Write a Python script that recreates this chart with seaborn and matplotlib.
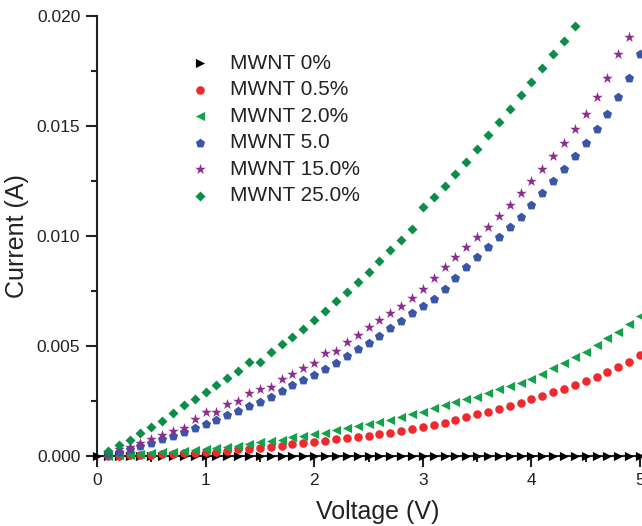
import numpy as np
import pandas as pd
import matplotlib
matplotlib.use("Agg")
import matplotlib.pyplot as plt
import seaborn as sns
from matplotlib.ticker import MultipleLocator, FormatStrFormatter

VOLTAGE = [0.0, 0.1, 0.2, 0.3, 0.4, 0.5, 0.6, 0.7, 0.8, 0.9,
           1.0, 1.1, 1.2, 1.3, 1.4, 1.5, 1.6, 1.7, 1.8, 1.9,
           2.0, 2.1, 2.2, 2.3, 2.4, 2.5, 2.6, 2.7, 2.8, 2.9,
           3.0, 3.1, 3.2, 3.3, 3.4, 3.5, 3.6, 3.7, 3.8, 3.9,
           4.0, 4.1, 4.2, 4.3, 4.4, 4.5, 4.6, 4.7, 4.8, 4.9, 5.0]

LABELS = ["MWNT 0%", "MWNT 0.5%", "MWNT 2.0%", "MWNT 5.0", "MWNT 15.0%", "MWNT 25.0%"]

cur_0 = [0.0] * 51

cur_05 = [0.00001, 0.00002, 0.00003, 0.00005, 0.00006, 0.00008, 0.00010, 0.00012, 0.00015, 0.00018,
          0.00020, 0.00025, 0.00030, 0.00034, 0.00038, 0.00041, 0.00045, 0.00055, 0.00059, 0.00064,
          0.00068, 0.00077, 0.00082, 0.00086, 0.00091, 0.00100, 0.00105, 0.00114, 0.00123, 0.00132,
          0.00141, 0.00150, 0.00164, 0.00177, 0.00191, 0.00200, 0.00214, 0.00227, 0.00241, 0.00259,
          0.00273, 0.00291, 0.00305, 0.00323, 0.00341, 0.00359, 0.00382, 0.00405, 0.00427, 0.00459]

cur_2 = [0.00002, 0.00004, 0.00006, 0.00010, 0.00014, 0.00016, 0.00018, 0.00023, 0.00027, 0.00032,
         0.00036, 0.00041, 0.00045, 0.00055, 0.00064, 0.00068, 0.00073, 0.00086, 0.00091, 0.00100,
         0.00105, 0.00118, 0.00127, 0.00136, 0.00145, 0.00155, 0.00164, 0.00177, 0.00191, 0.00200,
         0.00218, 0.00232, 0.00245, 0.00259, 0.00268, 0.00286, 0.00305, 0.00318, 0.00332, 0.00350,
         0.00373, 0.00400, 0.00423, 0.00450, 0.00473, 0.00505, 0.00536, 0.00564, 0.00600, 0.00636]

cur_5 = [0.00009, 0.00018, 0.00032, 0.00045, 0.00059, 0.00077, 0.00091, 0.00109, 0.00127, 0.00145,
         0.00164, 0.00186, 0.00205, 0.00227, 0.00245, 0.00268, 0.00295, 0.00323, 0.00345, 0.00368,
         0.00395, 0.00425, 0.00455, 0.00486, 0.00514, 0.00545, 0.00582, 0.00614, 0.00650, 0.00682,
         0.00714, 0.00757, 0.00809, 0.00859, 0.00905, 0.00950, 0.00995, 0.01041, 0.01086, 0.01141,
         0.01195, 0.01250, 0.01305, 0.01364, 0.01423, 0.01486, 0.01555, 0.01632, 0.01718, 0.01827]

cur_15 = [0.00018, 0.00032, 0.00041, 0.00059, 0.00077, 0.00095, 0.00114, 0.00127, 0.00168, 0.00200,
          0.00200, 0.00236, 0.00250, 0.00286, 0.00305, 0.00314, 0.00350, 0.00373, 0.00400, 0.00423,
          0.00468, 0.00477, 0.00518, 0.00550, 0.00586, 0.00618, 0.00650, 0.00682, 0.00718, 0.00759,
          0.00809, 0.00859, 0.00905, 0.00950, 0.00995, 0.01041, 0.01091, 0.01141, 0.01195, 0.01250,
          0.01305, 0.01364, 0.01423, 0.01486, 0.01555, 0.01632, 0.01718, 0.01827, 0.01905]

cur_25 = [0.00023, 0.00050, 0.00073, 0.00105, 0.00132, 0.00159, 0.00195, 0.00232, 0.00259, 0.00289,
          0.00323, 0.00355, 0.00386, 0.00427, 0.00427, 0.00473, 0.00509, 0.00541, 0.00577, 0.00618,
          0.00659, 0.00705, 0.00745, 0.00791, 0.00836, 0.00886, 0.00936, 0.00982, 0.01032, 0.01132,
          0.01177, 0.01227, 0.01282, 0.01336, 0.01395, 0.01459, 0.01518, 0.01577, 0.01641, 0.01700,
          0.01764, 0.01827, 0.01886, 0.01955]

COLORS = ["#000000", "#ee2a2e", "#13a14a", "#3a57a7", "#8e2d8f", "#0b8f48"]
MARKERS = [">", "o", "<", "p", "*", "D"]
SIZES = [44, 38, 44, 48, 64, 26]

series = [cur_0, cur_05, cur_2, cur_5, cur_15, cur_25]

frames = []
for lab, vals in zip(LABELS, series):
    v = VOLTAGE[:len(vals)] if lab == "MWNT 0%" else VOLTAGE[1:1 + len(vals)]
    frames.append(pd.DataFrame({"Voltage": v, "Current": vals, "Sample": lab}))
df = pd.concat(frames, ignore_index=True)

sns.set_style("ticks")
plt.rcParams["font.family"] = ["Liberation Sans", "DejaVu Sans"]

fig = plt.figure(figsize=(6.42, 5.26), dpi=100)
ax = fig.add_axes([97 / 642, 1 - 456 / 526, 543 / 642, 440 / 526])

for lab, col, mk, sz in zip(LABELS, COLORS, MARKERS, SIZES):
    sub = df[df["Sample"] == lab]
    sns.scatterplot(data=sub, x="Voltage", y="Current", ax=ax, color=col, marker=mk,
                    s=sz, linewidth=0, label=lab, clip_on=False, zorder=3)

ax.set_xlim(0, 5)
ax.set_ylim(0, 0.020)
ax.xaxis.set_major_locator(MultipleLocator(1))
ax.xaxis.set_minor_locator(MultipleLocator(0.5))
ax.yaxis.set_major_locator(MultipleLocator(0.005))
ax.yaxis.set_minor_locator(MultipleLocator(0.0025))
ax.yaxis.set_major_formatter(FormatStrFormatter("%.3f"))
ax.xaxis.set_major_formatter(FormatStrFormatter("%d"))

for s in ["top", "right"]:
    ax.spines[s].set_visible(False)
for s in ["left", "bottom"]:
    ax.spines[s].set_linewidth(1.5)
    ax.spines[s].set_color("#222222")

ax.tick_params(which="major", direction="out", length=8, width=1.5, labelsize=12.5,
               colors="#222222", pad=4)
ax.tick_params(which="minor", direction="out", length=4, width=1.5, colors="#222222")

ax.set_xlabel("Voltage (V)", fontsize=18, color="#222222")
ax.set_ylabel("Current (A)", fontsize=18, color="#222222")
ax.xaxis.set_label_coords((378 - 97) / 543, -0.1)
ax.yaxis.set_label_coords(-0.125, 0.5)

leg = ax.legend(loc="upper left", bbox_to_anchor=(0.155, 0.933), frameon=False,
                fontsize=15, handletextpad=0.94, labelspacing=0.36, borderaxespad=0,
                handlelength=1.0)
for t in leg.get_texts():
    t.set_color("#222222")

fig.savefig("out.png", dpi=100)
